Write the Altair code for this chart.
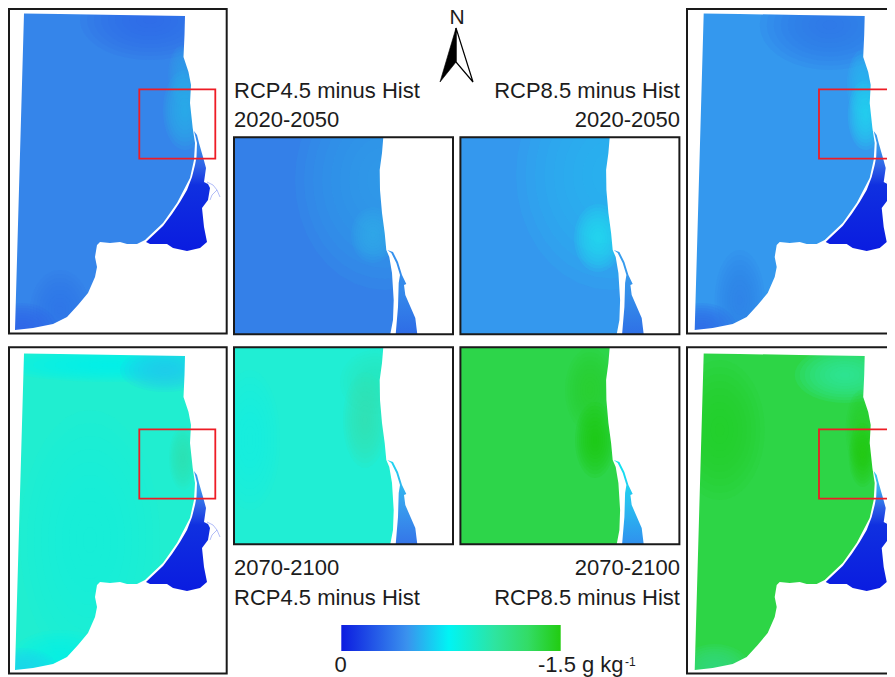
import altair as alt
import math

SEA_OUTLINE = [(24,13.5),(60,14),(120,15),(185,16),(184.5,35),(183.5,57),(188.5,72),(191,85),(190,103),(192.7,128),
    (195,143),(194,160),(190,178),(177,203),(163,223),(145,240),(137,244),(127,244),(120,242),(110,243),(100,242),
    (97,245),(95,257),(97,267),(95,277),(88,293),(78,305),(67,317),(53,324),(33,328),(15,330),(24,13.5)]
LAGOON = [(194,131),(197,135),(199,143),(203,157),(206,168),(204,182),(208,184),(210,188),(209,194),(208,200),(202,208),
    (204,227),(207,242),(200,248),(187,251),(173,248),(167,244),(150,244),(146,242),(163,226),(172,214),(180,202),(187,190),
    (192,177),(195,165),(196.5,157),(197,143),(194,131)]
RIVER_A = [(207,182),(213,185),(217,190),(220,197)]
RIVER_B = [(217,190),(212,195),(210,200)]
BIG_FRAME = (7.3,7.3,226.7,333.6)
RED_BOX = (139.3,89.3,215.3,158.7)

INSET_FRAME = (234,137.3,453,334.3)
INSET_LAND = [(383.3,137.3),(382,153),(379.7,170),(380,190),(382,213),(384.7,233),(386.3,250),(389.3,257),(392,273),
    (393.7,300),(393,320),(390.3,334.3),(453,334.3),(453,137.3),(383.3,137.3)]
INSET_LAGOON = [(395.7,334.3),(398,307),(398.7,283),(400,275),(396.3,263),(391.3,253),(387.3,250),(393,252),(398,262),
    (402,275),(406.3,284),(404,285),(405.3,295),(415.3,318),(417.3,334.3),(395.7,334.3)]

BIG_OFFSETS = {"TL":(0,0),"TR":(679.7,0),"BL":(0,340),"BR":(679.7,340)}
INSET_OFFSETS = {"TL":(0,0),"TR":(226.4,0),"BL":(0,210),"BR":(226.4,210)}

BIG_BASE = {"TL":"#3585ea","TR":"#3498ee","BL":"#20eed0","BR":"#2dd546"}
INSET_BASE = {"TL":"#3480e8","TR":"#3498ee","BL":"#20eed4","BR":"#2dd54a"}

BIG_BLOBS = {
 "TL":[(150,20,70,40,"#2d6ae6"),(183,75,15,30,"#2fa0ea"),(185,110,22,40,"#2ab0ea"),(60,310,30,40,"#3278e8"),(22,328,35,25,"#3062e6")],
 "TR":[(150,25,70,45,"#3078e8"),(183,85,16,35,"#2ab8ee"),(186,115,18,35,"#22d8ee"),(60,300,25,50,"#3080ea"),(22,328,35,25,"#3068e6")],
 "BL":[(110,25,110,17,"#02f2ee"),(165,30,45,22,"#22c8f0"),(90,200,70,130,"#16f0dc"),(183,118,14,32,"#30e4b0"),(60,320,50,30,"#08f2ea"),(22,328,35,20,"#20d8f0")],
 "BR":[(40,90,45,70,"#26d02c"),(165,35,50,28,"#30e8a0"),(182,90,16,40,"#28d028"),(183,115,14,32,"#22cc14"),(35,328,35,24,"#38dc80")],
}
INSET_BLOBS = {
 "TL":[(385,180,90,110,"#2fa0ea"),(373,235,22,28,"#32acea")],
 "TR":[(611,175,95,115,"#2bb8ee"),(598,238,24,34,"#22deee")],
 "BL":[(250,440,30,70,"#18f0e0"),(375,382,35,32,"#2be8c0"),(365,420,22,48,"#36e4b0")],
 "BR":[(590,390,25,42,"#27d030"),(595,440,20,38,"#20cc14")],
}
BIG_LAGOON_STOPS = {
 "TL":[(0,"#3a8cf0"),(.15,"#3585ea"),(.3,"#2e60e6"),(.45,"#1030e0"),(1,"#0a1ce0")],
 "TR":[(0,"#3a9cf0"),(.15,"#3590ea"),(.3,"#2e60e6"),(.45,"#1030e0"),(1,"#0a1ce0")],
 "BL":[(0,"#3a9cf0"),(.15,"#3a90ee"),(.3,"#2e60e6"),(.45,"#1030e0"),(1,"#0a1ce0")],
 "BR":[(0,"#30d0ee"),(.15,"#38a8f0"),(.3,"#2e60e6"),(.45,"#1030e0"),(1,"#0a1ce0")],
}
INSET_LAGOON_STOPS = {
 "TL":[(0,"#3592ee"),(.5,"#3488ea"),(1,"#2e6ce6")],
 "TR":[(0,"#38a0ee"),(.5,"#3490ea"),(1,"#2f70e6")],
 "BL":[(0,"#20d8f0"),(.5,"#38a0ee"),(1,"#3575e8")],
 "BR":[(0,"#10e8f0"),(.5,"#28c0f0"),(1,"#3090ee")],
}
LEGEND_BOX = (341.3,625,560.7,651)
LEGEND_STOPS = [(0,"#0c1ce0"),(.3,"#3a92ee"),(.49,"#00f4f4"),(.7,"#2ee4a0"),(.85,"#33dc66"),(1,"#22cc11")]

ARROW_LEFT = [(456,28),(440,82),(456,62),(456,28)]
ARROW_RIGHT = [(456,28),(473,82),(456,62),(456,28)]

TEXTS = [
 ("RCP4.5 minus Hist",234,98,"left",22),("2020-2050",234,127,"left",22),
 ("RCP8.5 minus Hist",680,98,"right",22),("2020-2050",680,127,"right",22),
 ("2070-2100",234,575,"left",22),("RCP4.5 minus Hist",234,605,"left",22),
 ("2070-2100",680,575,"right",22),("RCP8.5 minus Hist",680,605,"right",22),
 ("N",457,24,"center",21),("0",340.5,672,"center",22),("-1.5 g kg",538,672,"left",22),("-1",625,665.5,"left",12),
]

# ---------- helpers ----------
def shift(pts, off):
    return [[x+off[0], y+off[1]] for x,y in pts]

def rect_pts(b, off=(0,0)):
    x0,y0,x1,y1 = b
    return shift([(x0,y0),(x1,y0),(x1,y1),(x0,y1),(x0,y0)], off)

def big_frame_line(off):
    # the page margin hides anything left of x=8 and above y=8, so the outer lines sit just inside it
    x0,y0,x1,y1 = rect_pts(BIG_FRAME,off)[0] + rect_pts(BIG_FRAME,off)[2]
    return rect_pts((max(x0,9),max(y0,9),x1,y1))

def shape(rings, **mark):
    feature = {"type":"Feature","properties":{},"geometry":{"type":"Polygon","coordinates":rings}}
    mark.setdefault("strokeWidth",0)
    return alt.Chart(alt.Data(values=[feature])).mark_geoshape(**mark)

def path(pts, **mark):
    feature = {"type":"Feature","properties":{},"geometry":{"type":"LineString","coordinates":pts}}
    return alt.Chart(alt.Data(values=[feature])).mark_geoshape(filled=False, **mark)

RINGS = [1.0,.9,.8,.7,.6,.5,.4,.3,.2,.1]
def blob(b, off):
    cx,cy,rx,ry,c = b
    feats = []
    for f in RINGS:
        ring = [[off[0]+cx+rx*f*math.cos(a*math.pi/18), off[1]+cy+ry*f*math.sin(a*math.pi/18)] for a in range(37)]
        feats.append({"type":"Feature","properties":{},"geometry":{"type":"Polygon","coordinates":[ring]}})
    return alt.Chart(alt.Data(values=feats)).mark_geoshape(fill=c, fillOpacity=.17, strokeWidth=0)

def vgrad(stops, x=False):
    return alt.Gradient(gradient="linear",
        stops=[alt.GradientStop(offset=o,color=c) for o,c in stops],
        x1=0,y1=0,x2=1 if x else 0,y2=0 if x else 1)

layers = []
for k,off in INSET_OFFSETS.items():
    layers.append(shape([rect_pts(INSET_FRAME,off)], fill=INSET_BASE[k]))
    layers += [blob(b,(0,0)) for b in INSET_BLOBS[k]]
for k,off in BIG_OFFSETS.items():
    layers.append(shape([rect_pts(BIG_FRAME,off)], fill=BIG_BASE[k]))
    layers += [blob(b,off) for b in BIG_BLOBS[k]]
holes = [list(reversed(rect_pts(BIG_FRAME,o))) for o in BIG_OFFSETS.values()] + \
        [list(reversed(rect_pts(INSET_FRAME,o))) for o in INSET_OFFSETS.values()]
layers.append(shape([rect_pts((-20,-20,950,720))]+holes, fill="#ffffff"))

for k,off in BIG_OFFSETS.items():
    hole = shift(list(reversed(SEA_OUTLINE)),off)
    layers.append(shape([rect_pts(BIG_FRAME,off), hole], fill="#ffffff"))
    layers.append(shape([shift(LAGOON,off)], fill=vgrad(BIG_LAGOON_STOPS[k])))
    layers.append(path(shift(RIVER_A,off), stroke="#7d90f2", strokeWidth=.6))
    layers.append(path(shift(RIVER_B,off), stroke="#7d90f2", strokeWidth=.6))
    layers.append(shape([rect_pts(RED_BOX,off)], fill="transparent", stroke="#ee1c25", strokeWidth=1.8))
    layers.append(shape([big_frame_line(off)], fill="transparent", stroke="#1a1a1a", strokeWidth=2))
for k,off in INSET_OFFSETS.items():
    layers.append(shape([shift(INSET_LAND,off)], fill="#ffffff"))
    layers.append(shape([shift(INSET_LAGOON,off)], fill=vgrad(INSET_LAGOON_STOPS[k])))
    layers.append(shape([rect_pts(INSET_FRAME,off)], fill="transparent", stroke="#1a1a1a", strokeWidth=2))

layers.append(shape([rect_pts(LEGEND_BOX)], fill=vgrad(LEGEND_STOPS,True)))
layers.append(shape([[list(p) for p in ARROW_RIGHT]], fill="#ffffff", stroke="#000000", strokeWidth=1.2))
layers.append(shape([[list(p) for p in ARROW_LEFT]], fill="#000000", stroke="#000000", strokeWidth=.6))

for t,x,y,al,sz in TEXTS:
    layers.append(alt.Chart(alt.Data(values=[{"t":t,"x":x,"y":y}]))
        .mark_text(align=al, baseline="alphabetic", fontSize=sz, font="Liberation Sans", color="#1c1c1c")
        .encode(longitude="x:Q", latitude="y:Q", text="t:N"))

chart = alt.layer(*layers).project(type="identity", scale=1, translate=[-8,-8]).properties(
    width=879, height=669, padding=0, autosize=alt.AutoSizeParams(type="none")
).configure_view(stroke=None)

chart.save("out.html", embed_options={"renderer":"svg","actions":False})
